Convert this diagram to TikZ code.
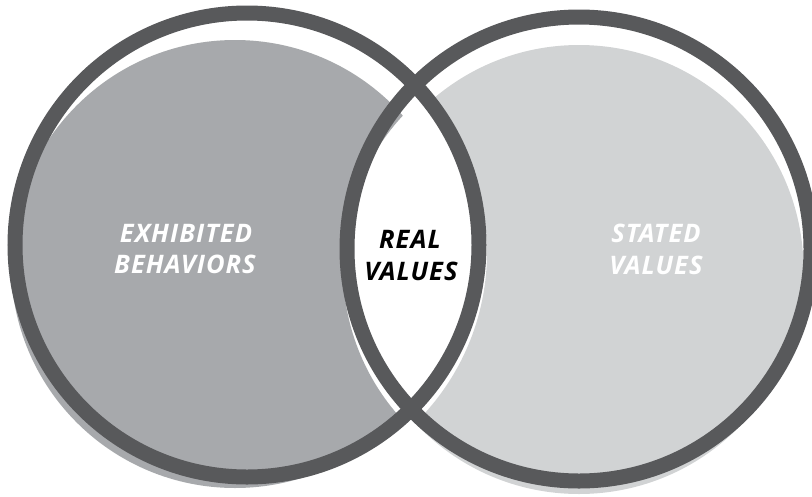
\documentclass[tikz,border=0pt]{standalone}
\usepackage{fontspec}
\setmainfont{Open Sans}
\newfontfamily\lblfont{Open Sans}[LetterSpace=4]
\definecolor{ringgray}{HTML}{58595B}
\definecolor{midgray}{HTML}{A7A9AC}
\definecolor{lightgray}{HTML}{D1D3D4}
\begin{document}
\begin{tikzpicture}[x=1pt,y=-1pt,
  ringline/.style={draw=ringgray, line width=15pt},
  lbl/.style={font=\lblfont\fontsize{25.5}{25.5}\selectfont\bfseries\itshape, inner sep=0pt, anchor=base}]
\useasboundingbox[fill=white] (0,0) rectangle (812,496);

% ring centres
\coordinate (lc) at (247,245);
\coordinate (rc) at (579,249);

% left crescent, dropped below its ring
\begin{scope}
  \clip (235,264) circle[radius=224pt];
  \fill[midgray, even odd rule] (-20,-20) rectangle (832,516) (567,268) circle[radius=224pt];
\end{scope}

% right crescent, dropped below its ring
\begin{scope}
  \clip (579,269.5) circle[radius=224.5pt];
  \fill[lightgray, even odd rule] (-20,-20) rectangle (832,516) (247,252) circle[radius=240pt];
\end{scope}

% the two rings
\draw[ringline] (lc) circle[radius=232pt];
\draw[ringline] (rc) circle[radius=232pt];

% labels
\node[lbl, text=white] (exh) at (186,242) {EXHIBITED};
\node[lbl, text=white] (beh) at (185,273) {BEHAVIORS};
\node[lbl, text=black] (real) at (410,248) {REAL};
\node[lbl, text=black] (rval) at (411,280) {VALUES};
\node[lbl, text=white] (stat) at (656,242) {STATED};
\node[lbl, text=white] (sval) at (656,274) {VALUES};
\end{tikzpicture}
\end{document}
